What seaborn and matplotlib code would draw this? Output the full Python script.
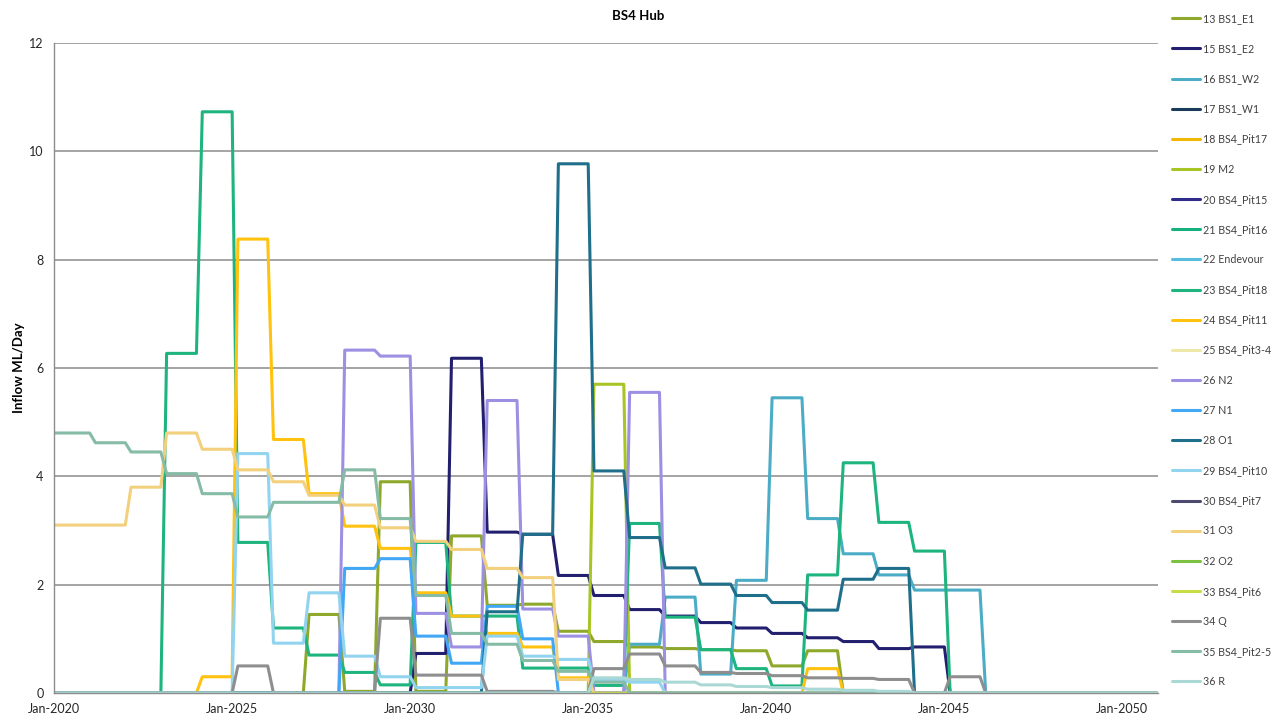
import matplotlib
matplotlib.use("Agg")
import matplotlib.pyplot as plt
import matplotlib.dates as mdates
import pandas as pd
import seaborn as sns

# Financial-year inflow values (ML/Day), one value per year 2020..2050
years = list(range(2020, 2051))

bs1_e1 = [0, 0, 0, 0, 0, 0, 0, 1.45, 0.03, 3.9, 0.03, 2.9, 1.62, 1.64, 1.14, 0.95,
          0.85, 0.82, 0.8, 0.78, 0.5, 0.78, 0, 0, 0, 0, 0, 0, 0, 0, 0]
bs1_e2 = [0, 0, 0, 0, 0, 0, 0, 0, 0, 0, 0.73, 6.18, 2.97, 2.93, 2.17, 1.8,
          1.54, 1.42, 1.3, 1.2, 1.1, 1.02, 0.95, 0.82, 0.85, 0, 0, 0, 0, 0, 0]
bs1_w2 = [0, 0, 0, 0, 0, 0, 0, 0, 0, 0, 0, 0, 0, 0, 0, 0,
          0.9, 1.77, 0.35, 2.08, 5.45, 3.22, 2.57, 2.18, 1.9, 1.9, 0, 0, 0, 0, 0]
bs1_w1 = [0.0] * 31
pit17 = [0.0] * 31
m2 = [0, 0, 0, 0, 0, 0, 0, 0, 0, 0, 0, 0, 0, 0, 0, 5.7,
      0, 0, 0, 0, 0, 0, 0, 0, 0, 0, 0, 0, 0, 0, 0]
pit15 = [0.0] * 31
pit16 = [0.0] * 31
endevour = [0.0] * 31
pit18 = [0, 0, 0, 6.27, 10.73, 2.78, 1.2, 0.7, 0.38, 0.15, 2.78, 1.42, 1.42, 0.46, 0.46, 0.14,
         3.13, 1.4, 0.8, 0.45, 0.13, 2.18, 4.25, 3.15, 2.62, 0, 0, 0, 0, 0, 0]
pit11 = [0, 0, 0, 0, 0.3, 8.38, 4.68, 3.68, 3.08, 2.67, 1.85, 1.42, 1.1, 0.85, 0.28, 0,
         0, 0, 0, 0, 0, 0.45, 0, 0, 0, 0, 0, 0, 0, 0, 0]
pit3_4 = [0.0] * 31
n2 = [0, 0, 0, 0, 0, 0, 0, 0, 6.33, 6.22, 1.47, 0.85, 5.4, 1.55, 1.05, 0,
      5.55, 0, 0, 0, 0, 0, 0, 0, 0, 0, 0, 0, 0, 0, 0]
n1 = [0, 0, 0, 0, 0, 0, 0, 0, 2.3, 2.48, 1.05, 0.55, 1.6, 1.0, 0, 0,
      0, 0, 0, 0, 0, 0, 0, 0, 0, 0, 0, 0, 0, 0, 0]
o1 = [0, 0, 0, 0, 0, 0, 0, 0, 0, 0, 0, 0, 1.5, 2.93, 9.77, 4.1,
      2.87, 2.31, 2.01, 1.8, 1.67, 1.53, 2.1, 2.3, 0, 0, 0, 0, 0, 0, 0]
pit10 = [0, 0, 0, 0, 0, 4.42, 0.92, 1.85, 0.68, 0.3, 0.1, 0.1, 1.05, 0.68, 0.62, 0.25,
         0.2, 0, 0, 0, 0, 0, 0, 0, 0, 0, 0, 0, 0, 0, 0]
pit7 = [0.0] * 31
o3 = [3.1, 3.1, 3.8, 4.8, 4.5, 4.12, 3.9, 3.65, 3.47, 3.05, 2.8, 2.65, 2.3, 2.13, 0.25, 0,
      0, 0, 0, 0, 0, 0, 0, 0, 0, 0, 0, 0, 0, 0, 0]
o2 = [0.0] * 31
pit6 = [0.0] * 31
q = [0, 0, 0, 0, 0, 0.5, 0, 0, 0, 1.38, 0.33, 0.33, 0.03, 0.03, 0, 0.45,
     0.72, 0.5, 0.38, 0.36, 0.32, 0.28, 0.27, 0.25, 0, 0.3, 0, 0, 0, 0, 0]
pit2_5 = [4.8, 4.62, 4.45, 4.05, 3.68, 3.25, 3.52, 3.52, 4.12, 3.22, 1.8, 1.1, 0.9, 0.6, 0.4, 0.2,
          0, 0, 0, 0, 0, 0, 0, 0, 0, 0, 0, 0, 0, 0, 0]
r = [0, 0, 0, 0, 0, 0, 0, 0, 0, 0, 0, 0, 0, 0, 0, 0.28,
     0.25, 0.2, 0.15, 0.12, 0.1, 0.07, 0.05, 0.03, 0, 0, 0, 0, 0, 0, 0]

series = {
    "13 BS1_E1": bs1_e1, "15 BS1_E2": bs1_e2, "16 BS1_W2": bs1_w2, "17 BS1_W1": bs1_w1,
    "18 BS4_Pit17": pit17, "19 M2": m2, "20 BS4_Pit15": pit15, "21 BS4_Pit16": pit16,
    "22 Endevour": endevour, "23 BS4_Pit18": pit18, "24 BS4_Pit11": pit11,
    "25 BS4_Pit3-4": pit3_4, "26 N2": n2, "27 N1": n1, "28 O1": o1, "29 BS4_Pit10": pit10,
    "30 BS4_Pit7": pit7, "31 O3": o3, "32 O2": o2, "33 BS4_Pit6": pit6, "34 Q": q,
    "35 BS4_Pit2-5": pit2_5, "36 R": r,
}

colors = {
    "13 BS1_E1": "#8DA82B", "15 BS1_E2": "#221F6E", "16 BS1_W2": "#4BACC6",
    "17 BS1_W1": "#1A3B5C", "18 BS4_Pit17": "#F2B705", "19 M2": "#A8C526",
    "20 BS4_Pit15": "#2F2C8A", "21 BS4_Pit16": "#16B07F", "22 Endevour": "#57BCDD",
    "23 BS4_Pit18": "#1DB47E", "24 BS4_Pit11": "#FFC20E", "25 BS4_Pit3-4": "#EEE8A8",
    "26 N2": "#9D90E2", "27 N1": "#42A7F5", "28 O1": "#1F6F8B", "29 BS4_Pit10": "#92D4EF",
    "30 BS4_Pit7": "#4C4A6E", "31 O3": "#F3D07E", "32 O2": "#7DC142",
    "33 BS4_Pit6": "#C8DC46", "34 Q": "#8E8E8E", "35 BS4_Pit2-5": "#86BBA6",
    "36 R": "#A9D8D5",
}

# Each year's value holds from early March to the following January
rows = []
for name, vals in series.items():
    for i, (yr, v) in enumerate(zip(years, vals)):
        start = pd.Timestamp(yr, 1, 1) if i == 0 else pd.Timestamp(yr, 3, 1)
        rows.append((name, start, v))
        rows.append((name, pd.Timestamp(yr + 1, 1, 1), v))
df = pd.DataFrame(rows, columns=["series", "date", "value"])

sns.set_theme(style="white")
plt.rcParams["font.family"] = ["Lato", "DejaVu Sans"]

fig = plt.figure(figsize=(12.77, 7.2), dpi=100)
ax = fig.add_axes([54 / 1277, 1 - 693 / 720, (1158 - 54) / 1277, (693 - 43) / 720])

sns.lineplot(data=df, x="date", y="value", hue="series", hue_order=list(series.keys()),
             palette=colors, estimator=None, sort=False, linewidth=2.2, ax=ax)

ax.set_xlim(pd.Timestamp(2020, 1, 1), pd.Timestamp(2051, 1, 1))
ax.set_ylim(0, 12)
ax.set_yticks(range(0, 13, 2))
ax.xaxis.set_major_locator(mdates.YearLocator(5))
ax.xaxis.set_minor_locator(mdates.YearLocator(1))
ax.xaxis.set_major_formatter(mdates.DateFormatter("%b-%Y"))
ax.grid(axis="y", color="#8C8C8C", linewidth=1.1)
ax.set_axisbelow(True)
for s in ["top", "right"]:
    ax.spines[s].set_visible(False)
for s in ["left", "bottom"]:
    ax.spines[s].set_color("#8C8C8C")
    ax.spines[s].set_linewidth(1.0)
ax.tick_params(axis="both", which="both", colors="#8C8C8C", labelcolor="#262626",
               direction="out", length=4, width=1.0, labelsize=9)
ax.tick_params(axis="x", which="minor", length=4)
ax.set_xlabel("")
ax.set_ylabel("Inflow ML/Day", fontsize=9.5, fontweight="bold", color="#000000", labelpad=3)

fig.text(0.5, 1 - 16 / 720, "BS4 Hub", ha="center", va="center",
         fontsize=9.5, fontweight="bold", color="#000000")

handles, labels = ax.get_legend_handles_labels()
ax.get_legend().remove()
fig.legend(handles, labels, loc="upper left", bbox_to_anchor=(1172 / 1277, 1 - 13 / 720),
           frameon=False, fontsize=7.7, handlelength=2.6, handletextpad=0.3,
           labelspacing=1.79, borderaxespad=0, borderpad=0, labelcolor="#404040")

fig.savefig("out.png", dpi=100)
